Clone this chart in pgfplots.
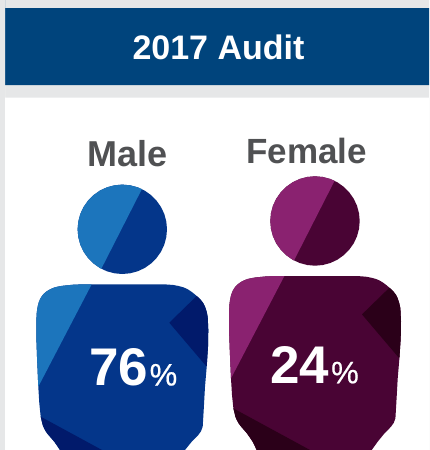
\documentclass[border=0pt]{standalone}
\usepackage{pgfplots}
\usepackage{pgfplotstable}
\usepackage{fontspec}
\pgfplotsset{compat=1.18}
\setmainfont{Liberation Sans}
\definecolor{bg}{HTML}{E6E7E8}
\definecolor{band}{HTML}{00447C}
\definecolor{lab}{HTML}{505153}
\definecolor{mL}{HTML}{1C75BC}
\definecolor{mM}{HTML}{04368A}
\definecolor{mD}{HTML}{011A6B}
\definecolor{fL}{HTML}{8A2270}
\definecolor{fM}{HTML}{490434}
\definecolor{fD}{HTML}{2B0019}
\pgfplotstableread{
x y
167.0 229.3
166.3 237.1
164.3 244.6
161.0 251.7
156.5 258.0
151.0 263.5
144.7 268.0
137.6 271.3
130.1 273.3
122.3 274.0
114.5 273.3
107.0 271.3
99.95 268.0
93.6 263.5
88.1 258.0
83.6 251.7
80.3 244.6
78.3 237.1
77.6 229.3
78.3 221.5
80.3 214.0
83.6 207.0
88.1 200.6
93.6 195.1
99.95 190.6
107.0 187.3
114.5 185.3
122.3 184.6
130.1 185.3
137.6 187.3
144.7 190.6
151.0 195.1
156.5 200.6
161.0 207.0
164.3 214.0
166.3 221.5
}\headall
\pgfplotstableread{
x y
101.3 268.8
99.95 268.0
93.6 263.5
88.1 258.0
83.6 251.7
80.3 244.6
78.3 237.1
77.6 229.3
78.3 221.5
80.3 214.0
83.6 207.0
88.1 200.6
93.6 195.1
99.95 190.6
107.0 187.3
114.5 185.3
122.3 184.6
130.1 185.3
137.6 187.3
141.9 189.1
}\headlight
\pgfplotstableread{
x y
91.7 284.3
83.3 284.3
73.3 284.7
68.3 285.2
63.3 285.7
58.95 286.4
55 287.3
51.45 288.65
48.3 290.3
45.6 292.2
43.3 294.3
41.46 296.7
40 299.3
38.9 301.95
38 305
37.25 308.9
36.7 313.3
36.45 318.3
36.3 323.3
36.3 336.7
37 356.7
38.3 386.7
39.3 403.3
40.7 416.7
42.7 425
44.2 428.5
46 431.7
47.9 434.3
50 436.7
54.3 441.7
57.3 446
60 450
64 458.3
179 458.3
185 450
191.7 441.7
195.1 438.3
198.3 435
201 431.2
202.7 426.7
203.7 410
205 386.7
206.7 366.7
208 346.7
208.3 330
207.7 316.7
206.5 311.2
205 306.7
203.5 303.5
201.7 301
199.4 298.5
196.7 296
193.45 293.25
190 290.7
186.85 288.8
183.3 287.3
178.5 285.98
173.3 285
168.3 284.6
163.3 284.3
}\bodyall
\pgfplotstableread{
x y
91.7 284.3
83.3 284.3
73.3 284.7
68.3 285.2
63.3 285.7
58.95 286.4
55 287.3
51.45 288.65
48.3 290.3
45.6 292.2
43.3 294.3
41.46 296.7
40 299.3
38.9 301.95
38 305
37.25 308.9
36.7 313.3
36.45 318.3
36.3 323.3
36.3 336.7
37 356.7
38.3 386.7
}\bodylight
\pgfplotstableread{
x y
196.7 296
169.3 322.7
206.7 366.7
208 346.7
208.3 330
207.7 316.7
206.5 311.2
205 306.7
203.5 303.5
201.7 301
199.4 298.5
}\bodyright
\pgfplotstableread{
x y
40.7 416.7
117.3 458.3
64 458.3
60 450
57.3 446
54.3 441.7
50 436.7
47.9 434.3
46 431.7
44.2 428.5
42.7 425
}\bodylow
\begin{document}
\begin{tikzpicture}
\begin{axis}[
  scale only axis, width=429pt, height=450pt,
  xmin=0, xmax=429, ymin=0, ymax=450, y dir=reverse,
  axis lines=none, clip=true,
  every axis plot/.append style={draw=none, line width=0pt},
]
% page
\addplot[fill=bg] coordinates {(0,0) (429,0) (429,450) (0,450)} \closedcycle;
\addplot[fill=band] coordinates {(5,8) (429,8) (429,85) (5,85)} \closedcycle;
\addplot[fill=white] coordinates {(5,97.7) (429,97.7) (429,450) (5,450)} \closedcycle;
% male
\addplot[fill=mM] table[x=x,y=y] {\headall} -- cycle;
\addplot[fill=mL] table[x=x,y=y] {\headlight} -- cycle;
\addplot[fill=mM] table[x=x,y=y] {\bodyall} -- cycle;
\addplot[fill=mL] table[x=x,y=y] {\bodylight} -- cycle;
\addplot[fill=mD] table[x=x,y=y] {\bodyright} -- cycle;
\addplot[fill=mD] table[x=x,y=y] {\bodylow} -- cycle;
% female: the same figure, moved
\addplot[fill=fM] table[x expr=\thisrow{x}+192.7,y expr=\thisrow{y}-8.3] {\headall} -- cycle;
\addplot[fill=fL] table[x expr=\thisrow{x}+192.7,y expr=\thisrow{y}-8.3] {\headlight} -- cycle;
\addplot[fill=fM] table[x expr=\thisrow{x}+192.7,y expr=\thisrow{y}-8.3] {\bodyall} -- cycle;
\addplot[fill=fL] table[x expr=\thisrow{x}+192.7,y expr=\thisrow{y}-8.3] {\bodylight} -- cycle;
\addplot[fill=fD] table[x expr=\thisrow{x}+192.7,y expr=\thisrow{y}-8.3] {\bodyright} -- cycle;
\addplot[fill=fD] table[x expr=\thisrow{x}+192.7,y expr=\thisrow{y}-8.3] {\bodylow} -- cycle;
% text
\node[anchor=base,inner sep=0pt,text=white,font=\fontsize{34}{34}\selectfont\bfseries] at (axis cs:218.5,59.3) {2017 Audit};
\node[anchor=base,inner sep=0pt,text=lab,font=\fontsize{36}{36}\selectfont\bfseries] at (axis cs:128,166) {Male};
\node[anchor=base,inner sep=0pt,text=lab,font=\fontsize{35}{35}\selectfont\bfseries] at (axis cs:306.5,163) {Female};
\node[anchor=base west,inner sep=0pt,text=white,font=\fontsize{53}{53}\selectfont\bfseries] at (axis cs:89,385.5) {76};
\node[anchor=base west,inner sep=0pt,text=white,font=\fontsize{31}{31}\selectfont\addfontfeature{FakeBold=0.6}] at (axis cs:149.5,385.5) {\%};
\node[anchor=base west,inner sep=0pt,text=white,font=\fontsize{53}{53}\selectfont\bfseries] at (axis cs:270,383.3) {24};
\node[anchor=base west,inner sep=0pt,text=white,font=\fontsize{31}{31}\selectfont\addfontfeature{FakeBold=0.6}] at (axis cs:331,383.3) {\%};
\end{axis}
\end{tikzpicture}
\end{document}
